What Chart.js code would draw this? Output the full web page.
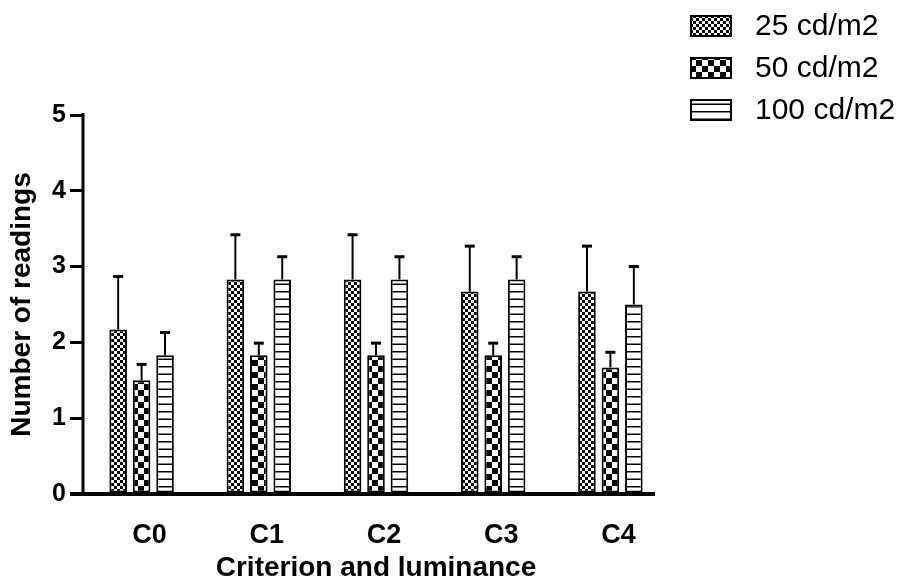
<!DOCTYPE html>
<html lang="en">
<head>
    <meta charset="UTF-8">
    <title>Number of readings by criterion</title>
    <script src="https://cdn.jsdelivr.net/npm/chart.js"></script>
    <style>
        body {
            margin: 0;
            background: #fff;
        }
        #wrap {
            width: 906px;
            height: 582px;
        }
    </style>
</head>
<body>
    <div id="wrap"><canvas id="chart" width="906" height="582"></canvas></div>

    <script>
        const categories = ['C0', 'C1', 'C2', 'C3', 'C4'];
        const seriesNames = ['25 cd/m2', '50 cd/m2', '100 cd/m2'];
        const lum25 = [2.17, 2.83, 2.83, 2.67, 2.67];
        const err25 = [0.70, 0.59, 0.59, 0.60, 0.60];
        const lum50 = [1.50, 1.83, 1.83, 1.83, 1.67];
        const err50 = [0.21, 0.16, 0.16, 0.16, 0.20];
        const lum100 = [1.83, 2.83, 2.83, 2.83, 2.50];
        const err100 = [0.30, 0.30, 0.30, 0.30, 0.50];
        const yMin = 0, yMax = 5, yStep = 1;

        const FONT = '"Liberation Sans", Arial, sans-serif';

        // black & white fills: fine checks, coarse checks, horizontal lines
        function makePattern(kind) {
            const c = document.createElement('canvas');
            const g = c.getContext('2d');
            if (kind === 'fine') {
                c.width = c.height = 6;
                g.fillStyle = '#fff'; g.fillRect(0, 0, 6, 6);
                g.fillStyle = '#000'; g.fillRect(0, 0, 3, 3); g.fillRect(3, 3, 3, 3);
            } else if (kind === 'coarse') {
                c.width = c.height = 12;
                g.fillStyle = '#fff'; g.fillRect(0, 0, 12, 12);
                g.fillStyle = '#000'; g.fillRect(0, 0, 6, 6); g.fillRect(6, 6, 6, 6);
            } else {
                c.width = 4; c.height = 15;
                g.fillStyle = '#fff'; g.fillRect(0, 0, 4, 15);
                g.fillStyle = '#000'; g.fillRect(0, 6, 4, 1.5); g.fillRect(0, 13.5, 4, 1.5);
            }
            return g.createPattern(c, 'repeat');
        }

        const fills = [makePattern('fine'), makePattern('coarse'), makePattern('lines')];

        const errorBars = {
            id: 'errorBars',
            afterDatasetsDraw(chart) {
                const ctx = chart.ctx;
                const y = chart.scales.y;
                chart.data.datasets.forEach((ds, i) => {
                    chart.getDatasetMeta(i).data.forEach((bar, j) => {
                        const top = y.getPixelForValue(ds.data[j] + ds.errors[j]);
                        ctx.save();
                        ctx.strokeStyle = '#000';
                        ctx.lineWidth = 2;
                        ctx.beginPath();
                        ctx.moveTo(bar.x, bar.y);
                        ctx.lineTo(bar.x, top);
                        ctx.stroke();
                        ctx.lineWidth = 3;
                        ctx.beginPath();
                        ctx.moveTo(bar.x - 5, top);
                        ctx.lineTo(bar.x + 5, top);
                        ctx.stroke();
                        ctx.restore();
                    });
                });
            }
        };

        // axis lines drawn by hand so the x axis can stop short of the last slot
        const axisLines = {
            id: 'axisLines',
            afterDraw(chart) {
                const ctx = chart.ctx;
                const a = chart.chartArea;
                ctx.save();
                ctx.strokeStyle = '#000';
                ctx.lineWidth = 3;
                ctx.beginPath();
                ctx.moveTo(a.left, a.top - 2);
                ctx.lineTo(a.left, a.bottom);
                ctx.stroke();
                ctx.lineWidth = 4;
                ctx.beginPath();
                ctx.moveTo(a.left - 13, a.bottom);
                ctx.lineTo(a.right - 14, a.bottom);
                ctx.stroke();
                ctx.restore();
            }
        };

        const boxLegend = {
            id: 'boxLegend',
            afterDraw(chart) {
                const ctx = chart.ctx;
                chart.data.datasets.forEach((ds, i) => {
                    const y = 16 + i * 42;
                    ctx.save();
                    ctx.fillStyle = ds.backgroundColor;
                    ctx.fillRect(691, y, 40, 20);
                    ctx.strokeStyle = '#000';
                    ctx.lineWidth = 2;
                    ctx.strokeRect(691, y, 40, 20);
                    ctx.fillStyle = '#000';
                    ctx.font = '30px ' + FONT;
                    ctx.textBaseline = 'middle';
                    ctx.fillText(ds.label, 755, y + 11);
                    ctx.restore();
                });
            }
        };

        const values = [lum25, lum50, lum100];
        const errors = [err25, err50, err100];

        new Chart(document.getElementById('chart'), {
            type: 'bar',
            data: {
                labels: categories,
                datasets: seriesNames.map((name, i) => ({
                    label: name,
                    data: values[i],
                    errors: errors[i],
                    backgroundColor: fills[i],
                    borderColor: '#000',
                    borderWidth: 2,
                    borderSkipped: false,
                    categoryPercentage: 0.6,
                    barPercentage: 0.75
                }))
            },
            options: {
                responsive: false,
                animation: false,
                layout: { padding: { left: 0, right: 237, top: 115, bottom: 0 } },
                plugins: {
                    legend: { display: false },
                    tooltip: { enabled: false }
                },
                scales: {
                    x: {
                        afterFit: s => { s.height = 88; },
                        border: { display: false },
                        grid: { display: false },
                        ticks: {
                            color: '#000',
                            padding: 17,
                            labelOffset: 8,
                            font: { family: FONT, size: 27, weight: 'bold' }
                        },
                        title: {
                            display: true,
                            text: 'Criterion and luminance',
                            color: '#000',
                            padding: { top: 0, bottom: 0 },
                            font: { family: FONT, size: 28, weight: 'bold', lineHeight: 1 }
                        }
                    },
                    y: {
                        min: yMin,
                        max: yMax,
                        afterFit: s => { s.width = 83; },
                        border: { display: false },
                        grid: {
                            drawOnChartArea: false,
                            drawTicks: true,
                            tickLength: 13,
                            color: '#000',
                            lineWidth: 3
                        },
                        ticks: {
                            stepSize: yStep,
                            color: '#000',
                            padding: 4,
                            font: { family: FONT, size: 25, weight: 'bold' }
                        },
                        title: {
                            display: true,
                            text: 'Number of readings',
                            color: '#000',
                            padding: { top: 5, bottom: 0 },
                            font: { family: FONT, size: 28, weight: 'bold' }
                        }
                    }
                }
            },
            plugins: [errorBars, axisLines, boxLegend]
        });
    </script>
</body>
</html>
